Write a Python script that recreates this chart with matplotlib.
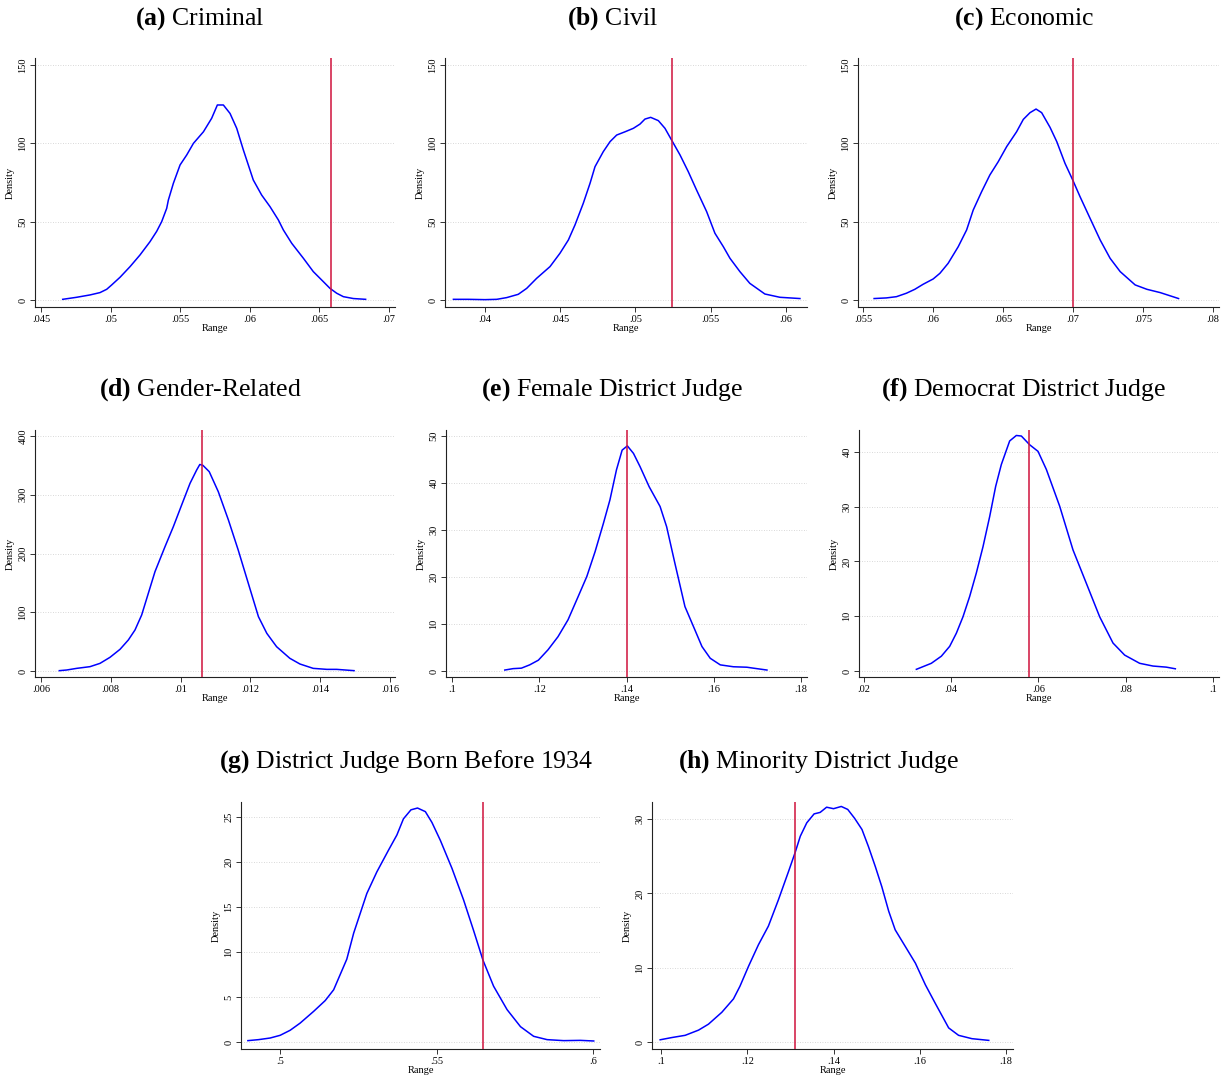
import matplotlib
matplotlib.use("Agg")
import matplotlib.pyplot as plt

plt.rcParams['font.family'] = ['Liberation Serif', 'DejaVu Serif']
plt.rcParams['mathtext.fontset'] = 'custom'
plt.rcParams['mathtext.rm'] = 'Liberation Serif'
plt.rcParams['mathtext.bf'] = 'Liberation Serif:bold'

W, H = 1225, 1078
BLUE = '#0000ff'
RED = '#d0123c'

TITLES = ['Criminal', 'Civil', 'Economic', 'Gender-Related', 'Female District Judge',
          'Democrat District Judge', 'District Judge Born Before 1934', 'Minority District Judge']
LETTERS = ['a', 'b', 'c', 'd', 'e', 'f', 'g', 'h']

# kernel density curves
crim_x = [.04656, .04756, .04852, .04924, .04972, .05008, .05068, .0514, .05211, .05283, .05331,
          .05367, .05403, .05415, .05451, .05499, .05547, .05595, .05667, .05726, .05767, .0581,
          .05858, .05906, .05954, .06025, .06085, .06145, .06205, .06241, .06301, .06385, .06456,
          .06528, .06576, .06624, .06672, .06744, .06832]
crim_y = [0.4, 1.7, 3.2, 4.7, 6.8, 9.6, 14.5, 21.3, 28.7, 37.2, 43.8, 50, 58.5, 63.8, 74.5, 86.2,
          92.6, 100, 107.4, 116, 124.5, 124.5, 119.1, 109.6, 95.7, 76.6, 67, 59.6, 51.1, 44.7, 36.2,
          26.6, 18.1, 11.7, 7.4, 4.3, 2.1, 0.9, 0.4]

civ_x = [.0379, .03889, .04, .04078, .04144, .04221, .04277, .04343, .04432, .04498, .04554, .04598,
         .04653, .04698, .04731, .04786, .04831, .04875, .04931, .04986, .0503, .05063, .05101,
         .05152, .05196, .0524, .05296, .05351, .05406, .05473, .05528, .05584, .05628, .05694,
         .0576, .0586, .0596, .06093]
civ_y = [0.4, 0.4, 0.2, 0.4, 1.5, 3.6, 7.4, 13.8, 21.3, 29.8, 38.3, 47.9, 61.7, 74.5, 85.1, 94.7,
         101.1, 105.3, 107.4, 109.6, 112.3, 115.5, 116.6, 114.5, 109.6, 102.1, 92.6, 81.9, 70.2,
         56.4, 42.6, 34, 26.6, 18.1, 10.6, 3.8, 1.7, 0.9]

eco_x = [.05579, .05667, .05739, .0581, .0587, .05929, .06001, .06049, .06108, .0618, .0624, .06287,
         .06347, .06406, .06466, .06526, .06597, .06645, .06693, .06736, .06776, .06836, .06884,
         .06943, .06998, .0705, .07122, .07194, .07265, .07337, .07444, .07528, .07623, .07754]
eco_y = [0.9, 1.3, 2.1, 4.3, 6.8, 10, 13.4, 17, 23.4, 34, 44.7, 57.4, 69.1, 79.8, 88.3, 97.9, 107.4,
         115.3, 119.6, 121.9, 119.6, 110.2, 101.1, 87.2, 76.6, 66, 52.1, 38.3, 26.6, 18.1, 9.6,
         6.8, 4.7, 0.9]

gen_x = [.006525, .006735, .007022, .007404, .00769, .007977, .008264, .008502, .008693, .008884,
         .009075, .009266, .009553, .009792, .01003, .01027, .01046, .01055, .01064, .01082, .01108,
         .01137, .01165, .01194, .01223, .01247, .01275, .01313, .01342, .0138, .01419, .01447,
         .01497]
gen_y = [0.6, 1.7, 4.5, 7.4, 13, 23.3, 36.9, 52.8, 69.8, 95.3, 132.2, 169.1, 211.6, 245.7, 282.6,
         319.4, 342.1, 351.5, 350.0, 339.3, 305.2, 257, 206, 149.2, 92.5, 64.1, 41.4, 21.6, 11.9,
         4.5, 2.8, 2.8, 0.6]

fem_x = [.1121, .114, .1159, .1178, .1198, .122, .1243, .1266, .1289, .1309, .1328, .1347, .1362,
         .1377, .139, .1402, .1416, .1431, .1452, .1477, .1492, .1511, .1534, .1557, .1573, .1592,
         .1615, .1645, .1676, .1691, .1722]
fem_y = [0.2, 0.5, 0.6, 1.3, 2.3, 4.5, 7.3, 10.9, 15.8, 20.1, 25.4, 31.4, 36.4, 42.8, 47, 47.9,
         46.3, 43.5, 39.2, 35, 30.7, 22.9, 13.7, 8.7, 5.2, 2.7, 1.3, 0.9, 0.8, 0.6, 0.2]

dem_x = [.032, .03543, .03773, .03964, .04117, .04269, .04422, .04575, .04728, .04881, .05018,
         .05148, .05339, .05492, .05607, .05798, .05989, .0618, .06485, .06791, .07097, .07402,
         .07708, .07975, .08319, .08625, .0893, .09137]
dem_y = [0.3, 1.4, 2.7, 4.5, 6.9, 9.9, 13.6, 17.9, 22.7, 28.2, 33.7, 37.7, 42, 43, 42.9, 41.3,
         40.1, 36.8, 30.1, 22.1, 16, 9.9, 5.1, 2.9, 1.4, 0.9, 0.7, 0.4]

old_x = [.4897, .4931, .4968, .5, .5032, .5064, .5107, .5144, .5171, .5192, .5213, .5235, .5256,
         .5277, .5309, .5346, .5373, .5394, .5418, .5439, .5464, .5485, .5512, .5549, .5586, .5618,
         .5648, .5682, .5725, .5768, .581, .5853, .5906, .5959, .6002]
old_y = [0.15, 0.26, 0.44, 0.74, 1.3, 2.1, 3.4, 4.6, 5.8, 7.5, 9.2, 12.1, 14.3, 16.5, 18.9, 21.3,
         23, 24.8, 25.8, 26, 25.6, 24.4, 22.4, 19.3, 15.8, 12.4, 9.1, 6.2, 3.6, 1.7, 0.63, 0.26,
         0.15, 0.18, 0.11]

min_x = [.0998, .1025, .1056, .1087, .111, .1141, .1168, .1183, .1203, .1226, .1249, .1272, .1296,
         .1311, .1323, .1338, .1355, .1369, .1384, .14, .1418, .1433, .1449, .1466, .1481, .1497,
         .1512, .1528, .1543, .1566, .159, .1613, .1636, .1667, .169, .1721, .176]
min_y = [0.3, 0.6, 0.9, 1.6, 2.4, 4, 5.8, 7.5, 10.2, 13.1, 15.6, 19.1, 23, 25.5, 27.7, 29.5, 30.7,
         30.9, 31.6, 31.4, 31.7, 31.3, 30.1, 28.6, 26.3, 23.6, 20.9, 17.6, 15.1, 12.9, 10.6, 7.7,
         5.2, 1.9, 0.9, 0.45, 0.22]

CURVES_X = [crim_x, civ_x, eco_x, gen_x, fem_x, dem_x, old_x, min_x]
CURVES_Y = [crim_y, civ_y, eco_y, gen_y, fem_y, dem_y, old_y, min_y]

# observed values (red lines)
OBSERVED = [.0658, .0524, .07, .01061, .14, .0578, .5647, .1311]

X_TICKS = [[.045, .05, .055, .06, .065, .07],
           [.04, .045, .05, .055, .06],
           [.055, .06, .065, .07, .075, .08],
           [.006, .008, .01, .012, .014, .016],
           [.1, .12, .14, .16, .18],
           [.02, .04, .06, .08, .1],
           [.5, .55, .6],
           [.1, .12, .14, .16, .18]]
X_LABELS = [['.045', '.05', '.055', '.06', '.065', '.07'],
            ['.04', '.045', '.05', '.055', '.06'],
            ['.055', '.06', '.065', '.07', '.075', '.08'],
            ['.006', '.008', '.01', '.012', '.014', '.016'],
            ['.1', '.12', '.14', '.16', '.18'],
            ['.02', '.04', '.06', '.08', '.1'],
            ['.5', '.55', '.6'],
            ['.1', '.12', '.14', '.16', '.18']]
Y_TICKS = [[0, 50, 100, 150], [0, 50, 100, 150], [0, 50, 100, 150],
           [0, 100, 200, 300, 400], [0, 10, 20, 30, 40, 50], [0, 10, 20, 30, 40],
           [0, 5, 10, 15, 20, 25], [0, 10, 20, 30]]

X_LIM = [(.04457, .07043), (.03734, .0614), (.05464, .08043), (.005828, .016143),
         (.09862, .18138), (.01885, .10138), (.4875, .6022), (.09791, .18162)]
Y_LIM = [(-4.5, 154.5), (-4.5, 154.5), (-4.5, 154.5), (-10.2, 410.2),
         (-1.28, 51.28), (-1.1, 44.0), (-0.78, 26.67), (-0.94, 32.3)]

# axes boxes in pixels: left, top, right, bottom
BOXES = [(35, 58, 395, 307), (445, 58, 807, 307), (858, 58, 1219, 307),
         (35, 430, 395, 677), (446, 430, 807, 677), (859, 430, 1219, 677),
         (241, 802, 600, 1049), (652, 802, 1013, 1049)]
TITLE_POS = [(200, 19), (612, 19), (1024, 19), (200, 390), (612, 390), (1024, 390),
             (406, 762), (818, 762)]

fig = plt.figure(figsize=(W / 100, H / 100), dpi=100)

for i in range(8):
    l, t, r, b = BOXES[i]
    ax = fig.add_axes([l / W, 1 - b / H, (r - l) / W, (b - t) / H])
    ax.plot(CURVES_X[i], CURVES_Y[i], color=BLUE, lw=1.1, zorder=3)
    ax.axvline(OBSERVED[i], color=RED, lw=1.1, zorder=4)
    ax.set_xlim(*X_LIM[i])
    ax.set_ylim(*Y_LIM[i])
    ax.set_xticks(X_TICKS[i])
    ax.set_xticklabels(X_LABELS[i])
    ax.set_yticks(Y_TICKS[i])
    ax.set_yticklabels([str(v) for v in Y_TICKS[i]], rotation=90, va='center')
    ax.tick_params(labelsize=7.5, length=3.5, width=0.7, pad=2, color='#333333')
    ax.grid(axis='y', linestyle=(0, (1, 2)), color='#cccccc', lw=0.6)
    ax.set_axisbelow(True)
    for s in ['top', 'right']:
        ax.spines[s].set_visible(False)
    for s in ['left', 'bottom']:
        ax.spines[s].set_linewidth(0.8)
        ax.spines[s].set_color('#222222')
    ax.set_xlabel('Range', fontsize=7.5)
    ax.set_ylabel('Density', fontsize=7.5)
    ax.xaxis.set_label_coords(0.5, -17 / (b - t))
    ax.yaxis.set_label_coords(-20 / (r - l), 0.5)
    tx, ty = TITLE_POS[i]
    fig.text(tx / W, 1 - ty / H, r'$\mathbf{(' + LETTERS[i] + ')}$ ' + TITLES[i],
             ha='center', va='center', fontsize=18.5)

fig.savefig('out.png', dpi=100)
